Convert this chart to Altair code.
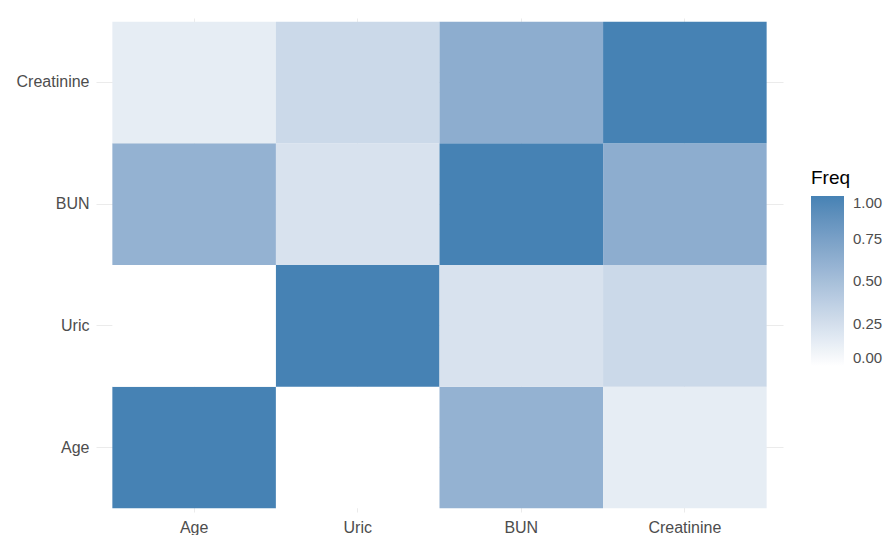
import altair as alt
import pandas as pd

vars_x = ["Age", "Uric", "BUN", "Creatinine"]
vars_y_top_down = ["Creatinine", "BUN", "Uric", "Age"]

# correlation-like frequencies, rows = y variable, columns = x variable order
row_age = [1.00, 0.00, 0.60, 0.14]
row_uric = [0.00, 1.00, 0.22, 0.29]
row_bun = [0.60, 0.22, 1.00, 0.64]
row_creat = [0.14, 0.29, 0.64, 1.00]

rows = {"Age": row_age, "Uric": row_uric, "BUN": row_bun, "Creatinine": row_creat}
records = []
for yv, vals in rows.items():
    for xv, f in zip(vars_x, vals):
        records.append({"Var1": xv, "Var2": yv, "Freq": f})
df = pd.DataFrame(records)

axis_common = dict(
    title=None,
    domain=False,
    ticks=False,
    grid=True,
    gridColor="#ebebeb",
    gridWidth=1,
    labelColor="#4d4d4d",
    labelFontSize=16,
    labelFont="Liberation Sans",
    zindex=0,
)

chart = alt.Chart(df).mark_rect().encode(
    x=alt.X("Var1:N", sort=vars_x,
            scale=alt.Scale(paddingInner=0, paddingOuter=0.1),
            axis=alt.Axis(labelAngle=0, labelPadding=7, **axis_common)),
    y=alt.Y("Var2:N", sort=vars_y_top_down,
            scale=alt.Scale(paddingInner=0, paddingOuter=0.03),
            axis=alt.Axis(labelPadding=7, **axis_common)),
    color=alt.Color("Freq:Q",
                    scale=alt.Scale(domain=[0, 1], range=["#ffffff", "#4682b4"], interpolate="lab"),
                    legend=alt.Legend(title="Freq", gradientLength=170, gradientThickness=33,
                                      titleFontSize=19, titleFont="Liberation Sans", titleFontWeight="normal",
                                      titleColor="#000000", labelFontSize=15, labelColor="#4d4d4d",
                                      labelFont="Liberation Sans", values=[0, 0.25, 0.5, 0.75, 1.0],
                                      labelBaseline="middle",
                                      format=".2f", orient="none", legendX=715, legendY=151,
                                      titlePadding=8, labelOffset=9, gradientStrokeWidth=0)),
).properties(
    width=687, height=494,
    padding={"left": 8, "top": 10, "right": 0, "bottom": 0},
).configure_view(stroke=None)

chart.save("out.html", embed_options={"renderer": "svg", "actions": False})
